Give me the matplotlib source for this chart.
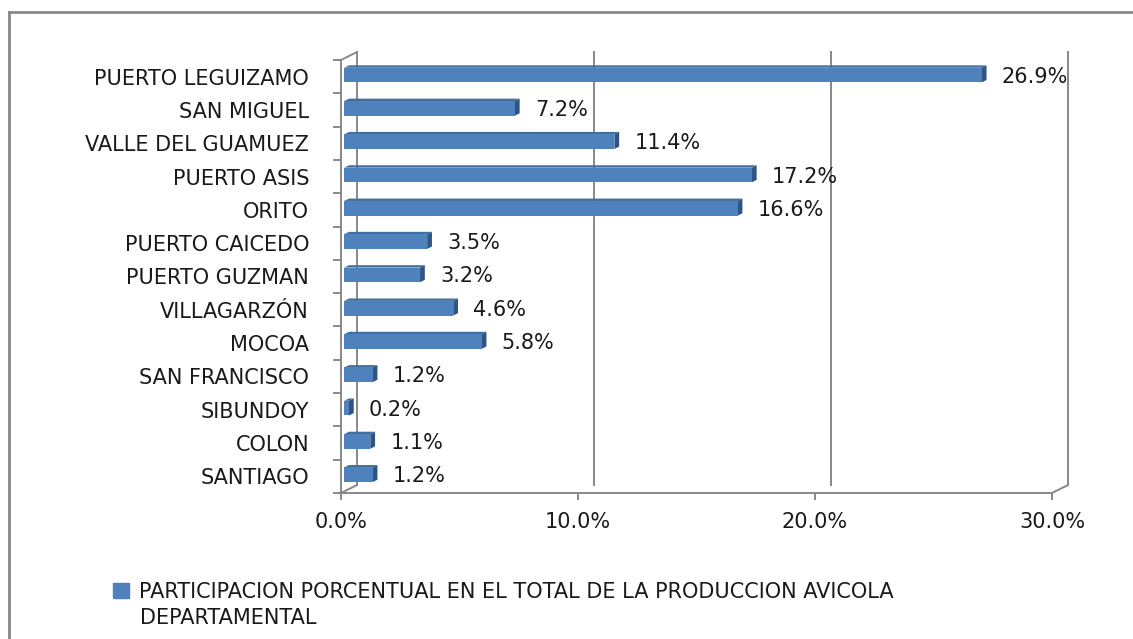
import numpy as np
import matplotlib.pyplot as plt
from matplotlib.patches import Polygon, Patch
from matplotlib.lines import Line2D

municipios = ["SANTIAGO", "COLON", "SIBUNDOY", "SAN FRANCISCO", "MOCOA",
              "VILLAGARZÓN", "PUERTO GUZMAN", "PUERTO CAICEDO", "ORITO",
              "PUERTO ASIS", "VALLE DEL GUAMUEZ", "SAN MIGUEL", "PUERTO LEGUIZAMO"]
participacion = [1.2, 1.1, 0.2, 1.2, 5.8, 4.6, 3.2, 3.5, 16.6, 17.2, 11.4, 7.2, 26.9]
xticks = [0, 10, 20, 30]
serie = ["PARTICIPACION PORCENTUAL EN EL TOTAL DE LA PRODUCCION AVICOLA",
         "DEPARTAMENTAL"]

W, H = 1133, 639
gray = "#888888"
azul = "#4F81BD"
negro = "#1a1a1a"
fs = 15

fig = plt.figure(figsize=(W / 100, H / 100), dpi=100)
ax = fig.add_axes([341 / W, (H - 493) / H, (1052 - 341) / W, (493 - 60) / H])
ax.set_xlim(0, 30)
ax.set_ylim(-0.5, len(municipios) - 0.5)

# profundidad del efecto 3D en unidades de datos
DX = 16 / (711 / 30)
DY = 8 / (433 / len(municipios))
f0, f1 = 0.2, 0.5
h = 0.44
top = len(municipios) - 0.5

# pared del fondo y bordes del piso
for g in xticks:
    ax.plot([g + DX, g + DX], [-0.5 + DY, top + DY], color=gray, lw=1.4, clip_on=False, zorder=1)
ax.plot([0, DX], [top, top + DY], color=gray, lw=1.4, clip_on=False, zorder=1)
ax.plot([0, DX], [-0.5, -0.5 + DY], color=gray, lw=1.4, clip_on=False, zorder=1)
ax.plot([30, 30 + DX], [-0.5, -0.5 + DY], color=gray, lw=1.4, clip_on=False, zorder=1)

# barras: cara frontal con barh, tapa y lateral como poligonos
y = np.arange(len(municipios))
ax.barh(y + f0 * DY, participacion, height=h, left=f0 * DX, color=azul, zorder=3)
for i, v in enumerate(participacion):
    y0 = i - h / 2 + f0 * DY
    y1 = i + h / 2 + f0 * DY
    tapa = [(f0 * DX, y1), (v + f0 * DX, y1),
            (v + f1 * DX, y1 + (f1 - f0) * DY), (f1 * DX, y1 + (f1 - f0) * DY)]
    lado = [(v + f0 * DX, y0), (v + f0 * DX, y1),
            (v + f1 * DX, y1 + (f1 - f0) * DY), (v + f1 * DX, y0 + (f1 - f0) * DY)]
    ax.add_patch(Polygon(tapa, closed=True, fc="#41709F", ec="none", zorder=2))
    ax.add_patch(Polygon(lado, closed=True, fc="#2F5587", ec="none", zorder=2))
    ax.annotate(f"{v:.1f}%", xy=(v + f1 * DX, i), xytext=(11, 0),
                textcoords="offset points", va="center", ha="left",
                fontsize=fs, color=negro, zorder=4)

for s in ["top", "right"]:
    ax.spines[s].set_visible(False)
for s in ["bottom", "left"]:
    ax.spines[s].set_color(gray)
    ax.spines[s].set_linewidth(1.4)

ax.set_xticks(xticks)
ax.set_xticklabels([f"{t:.1f}%" for t in xticks])
ax.tick_params(axis="x", direction="out", length=5, width=1.4, color=gray,
               pad=9, labelsize=fs, labelcolor=negro)

ax.set_yticks(np.arange(-0.5, len(municipios), 1))
ax.set_yticklabels([])
ax.tick_params(axis="y", which="major", direction="out", length=6, width=1.4, color=gray)
ax.set_yticks(y, minor=True)
ax.set_yticklabels(municipios, minor=True)
ax.tick_params(axis="y", which="minor", length=0, pad=23, labelsize=fs, labelcolor=negro)

# leyenda: primera linea con el marcador, segunda linea debajo
fig.legend(handles=[Patch(color=azul)], labels=[serie[0]], loc="center left",
           bbox_to_anchor=(113 / W, 1 - 592 / H), frameon=False, fontsize=fs,
           handlelength=0.75, handleheight=0.75, handletextpad=0.5,
           labelcolor=negro, borderpad=0, borderaxespad=0)
fig.text(140 / W, 1 - 618 / H, serie[1], fontsize=fs, color=negro,
         ha="left", va="center")

# marco exterior
fig.add_artist(Line2D([9 / W, 9 / W], [0, 1 - 12 / H], color=gray, lw=2))
fig.add_artist(Line2D([9 / W, 1], [1 - 12 / H, 1 - 12 / H], color=gray, lw=2))

fig.savefig("out.png", dpi=100)
